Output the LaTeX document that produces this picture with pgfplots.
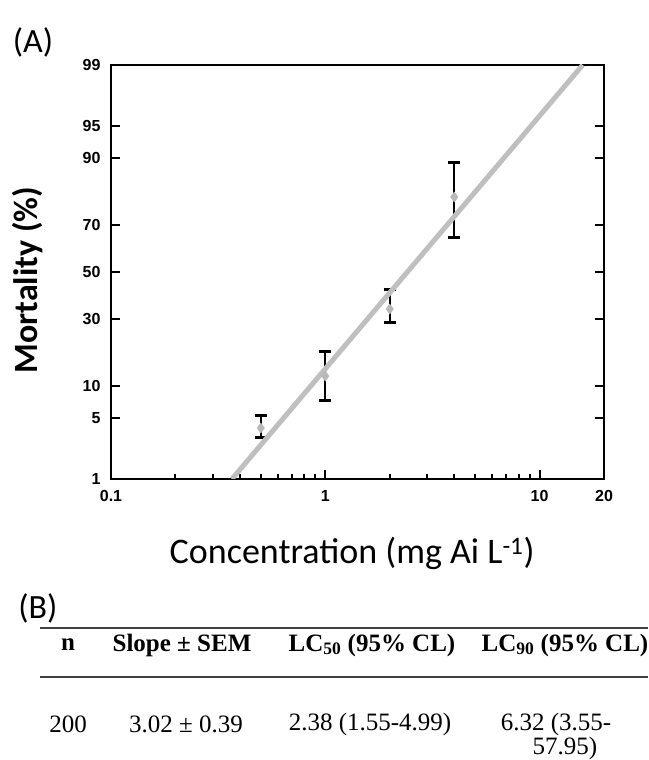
\documentclass[border=0pt]{standalone}
\usepackage{fontspec}
\setmainfont{Liberation Serif}
\newfontfamily\arialf{Liberation Sans}
\newfontfamily\calib{Carlito}
\usepackage{pgfplots}
\pgfplotsset{compat=1.18}
\begin{document}
\begin{tikzpicture}[x=1pt,y=1pt]
\useasboundingbox (0,0) rectangle (648,760);
\node[font=\calib\fontsize{34}{38}\selectfont] at (33,718) {(A)};
\begin{axis}[
  at={(111pt,281pt)}, anchor=south west,
  scale only axis, width=493pt, height=414pt,
  xmode=log, xmin=0.1, xmax=20, ymin=-2.326, ymax=2.326,
  axis line style={line width=2.2pt, black},
  xtick={0.1,1,10,20}, xticklabels={0.1,1,10,20},
  minor xtick={0.2,0.3,0.4,0.5,0.6,0.7,0.8,0.9,2,3,4,5,6,7,8,9},
  ytick={-2.326,-1.645,-1.2816,-0.5244,0,0.5244,1.2816,1.645,2.326},
  yticklabels={1,5,10,30,50,70,90,95,99},
  xtick pos=left,
  tick align=inside,
  major tick length=9pt, minor tick length=5pt,
  every tick/.append style={black, line width=2pt},
  tick label style={font=\arialf\bfseries\fontsize{16}{18}\selectfont},
  xticklabel style={yshift=-8pt},
  yticklabel style={xshift=-7pt},
  xlabel={Concentration (mg Ai L\textsuperscript{-1})},
  ylabel={Mortality (\%)},
  xlabel style={font=\calib\fontsize{36}{40}\selectfont, at={(axis description cs:0.489,-0.179)}, anchor=center},
  ylabel style={font=\calib\bfseries\fontsize{34}{38}\selectfont, at={(axis description cs:-0.17,0.48)}, anchor=center},
]
\addplot[only marks, mark=none, error bars/.cd, y dir=both, y explicit,
  error bar style={draw=black, line width=2.2pt},
  error mark options={draw=black, rotate=90, mark size=6pt, line width=3pt}]
  coordinates {
  (0.5,-1.753) += (0,0.146) -= (0,0.112)
  (1,-1.169) += (0,0.281) -= (0,0.280)
  (2,-0.416) += (0,0.214) -= (0,0.146)
  (4,0.843) += (0,0.382) -= (0,0.450)
  };
\addplot[black!25, line width=5pt, no marks] coordinates {(0.367,-2.326) (15.9,2.326)};
\addplot[only marks, mark=diamond*, mark size=5pt, black!28] coordinates {
  (0.5,-1.753) (1,-1.169) (2,-0.416) (4,0.843)};
\end{axis}
\node[font=\calib\fontsize{34}{38}\selectfont] at (38,152) {(B)};
\draw[line width=1.8pt, black!75] (40,132) -- (648,132);
\draw[line width=1.8pt, black!75] (40,83) -- (648,83);
\begin{scope}[every node/.style={font=\bfseries\fontsize{25}{28}\selectfont}]
\node at (68,115) {n};
\node at (182,115) {Slope ± SEM};
\node at (372,115) {LC\textsubscript{50} (95\% CL)};
\node at (565,115) {LC\textsubscript{90} (95\% CL)};
\end{scope}
\begin{scope}[every node/.style={font=\fontsize{25}{28}\selectfont}]
\node at (68,36) {200};
\node at (186,36) {3.02 ± 0.39};
\node at (370,36) {2.38 (1.55-4.99)};
\node at (556,36) {6.32 (3.55-};
\node at (565,12) {57.95)};
\end{scope}
\end{tikzpicture}
\end{document}
